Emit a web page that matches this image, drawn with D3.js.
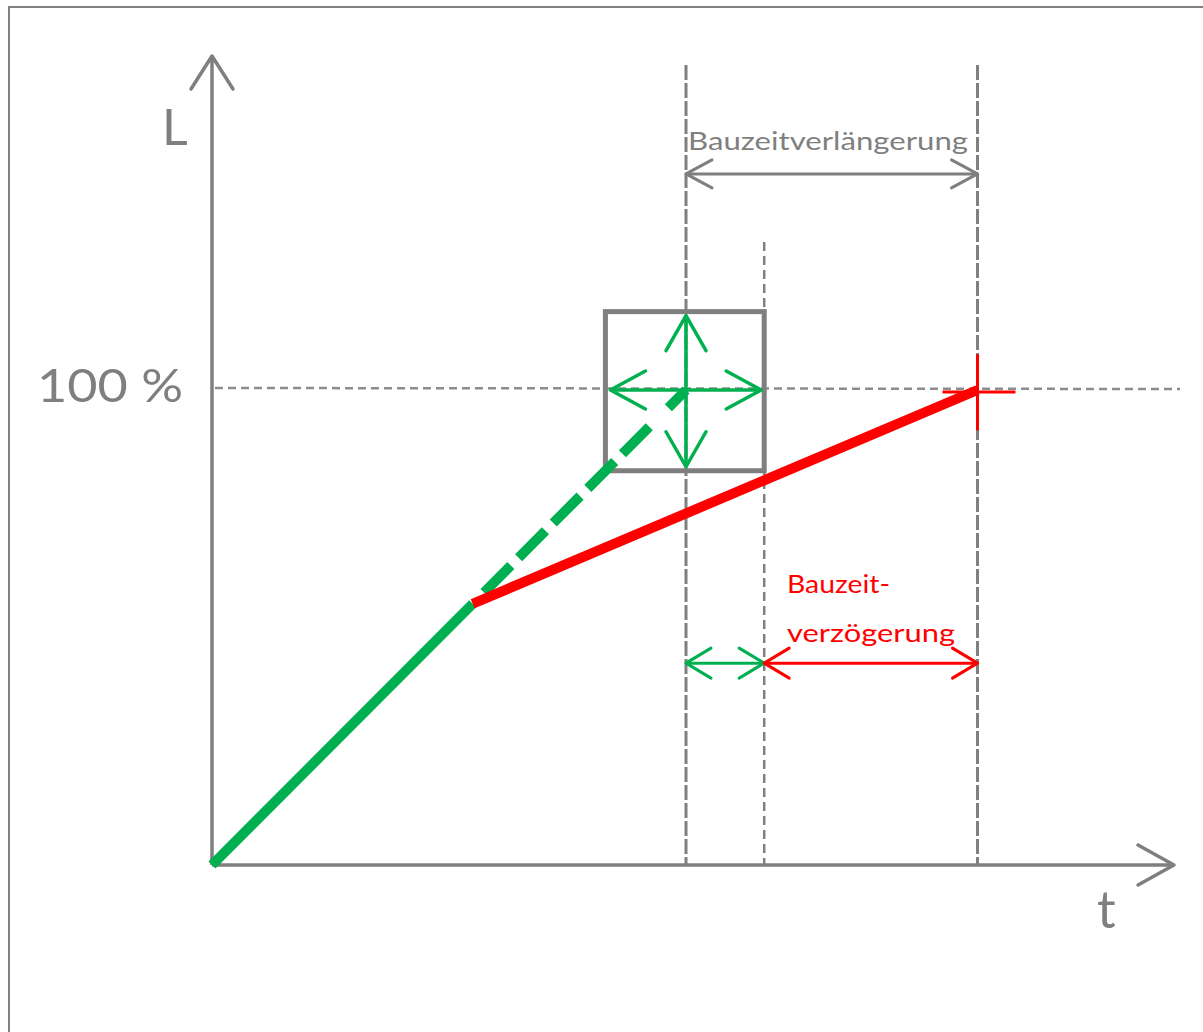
<!DOCTYPE html>
<html>
<head>
<meta charset="utf-8">
<script src="https://cdn.jsdelivr.net/npm/d3@7"></script>
<style>
  html, body { margin: 0; padding: 0; background: #fff; }
  svg { display: block; }
  text { font-family: Lato, "Open Sans", sans-serif; }
</style>
</head>
<body>
<svg width="1203" height="1032"></svg>
<script>
// --- data (t in time units, L in percent) ---
const tBreak = 5.5, lBreak = 55;         // where progress slows down
const tPlan = 10;                        // planned completion
const tTolerance = 11.65;                // end of tolerance window
const tActual = 16.15;                   // actual completion
const plannedSolid = [[0, 0], [tBreak, lBreak]];
const plannedDashed = [[tBreak, lBreak], [tPlan, 100]];
const actualLine = [[tBreak, lBreak], [tActual, 100]];
const toleranceBox = { t0: 8.3, t1: 11.65, l0: 83, l1: 116.5 };
const labels = {
  y: "L", x: "t", full: "100 %",
  extension: "Bauzeitverlängerung",
  delay: ["Bauzeit-", "verzögerung"]
};

const grey = "#7f7f7f", green = "#00b050", red = "#ff0000";

const svg = d3.select("svg");

// frame
svg.append("rect")
    .attr("x", 9).attr("y", 7)
    .attr("width", 1400).attr("height", 1200)
    .attr("fill", "none").attr("stroke", "#808080").attr("stroke-width", 2);

// scales
const x = d3.scaleLinear().domain([0, 10]).range([212, 686]);
const y = d3.scaleLinear().domain([0, 100]).range([865, 390]);

const line = d3.line().x(d => x(d[0])).y(d => y(d[1]));
const g = svg.append("g");

// open chevron at tip (px,py) pointing in direction (dx,dy)
function chevron(px, py, dx, dy, back, half, color, w) {
    const len = Math.hypot(dx, dy), ux = dx / len, uy = dy / len;
    const bx = px - ux * back, by = py - uy * back;
    g.append("path")
        .attr("d", `M${bx - uy * half},${by + ux * half}L${px},${py}L${bx + uy * half},${by - ux * half}`)
        .attr("fill", "none").attr("stroke", color).attr("stroke-width", w)
        .attr("stroke-linecap", "round").attr("stroke-linejoin", "round");
}
function hArrow(t0, t1, l, back, half, color, w) {
    g.append("line")
        .attr("x1", x(t0)).attr("x2", x(t1)).attr("y1", y(l)).attr("y2", y(l))
        .attr("stroke", color).attr("stroke-width", w);
    chevron(x(t0), y(l), -1, 0, back, half, color, w);
    chevron(x(t1), y(l), 1, 0, back, half, color, w);
}

// dashed reference lines
g.append("line")
    .attr("x1", x(0) + 3).attr("x2", 1180).attr("y1", y(100) - 2).attr("y2", y(100) - 1)
    .attr("stroke", "#8c8c8c").attr("stroke-width", 2.5).attr("stroke-dasharray", "8,5");
[[tPlan, 65, 3, "15,3"], [tTolerance, 242, 2.5, "9,5"], [tActual, 65, 3, "15,3"]].forEach(([t, top, w, dash]) => {
    g.append("line")
        .attr("x1", x(t)).attr("x2", x(t)).attr("y1", top).attr("y2", y(0))
        .attr("stroke", "#808080").attr("stroke-width", w).attr("stroke-dasharray", dash);
});

// axes
g.append("line").attr("x1", x(0)).attr("x2", x(0)).attr("y1", y(0)).attr("y2", 56)
    .attr("stroke", grey).attr("stroke-width", 3.5);
chevron(x(0), 56, 0, -1, 33, 21, grey, 3.5);
g.append("line").attr("x1", x(0)).attr("x2", 1174).attr("y1", y(0)).attr("y2", y(0))
    .attr("stroke", grey).attr("stroke-width", 3.5);
chevron(1174, y(0), 1, 0, 36, 20, grey, 3.5);

// tolerance box
g.append("rect")
    .attr("x", x(toleranceBox.t0)).attr("y", y(toleranceBox.l1))
    .attr("width", x(toleranceBox.t1) - x(toleranceBox.t0))
    .attr("height", y(toleranceBox.l0) - y(toleranceBox.l1))
    .attr("fill", "none").attr("stroke", grey).attr("stroke-width", 5);

// planned progress
g.append("path").datum(plannedSolid).attr("d", line)
    .attr("fill", "none").attr("stroke", green).attr("stroke-width", 10);
g.append("path").datum(plannedDashed).attr("d", line)
    .attr("fill", "none").attr("stroke", green).attr("stroke-width", 10)
    .attr("stroke-dasharray", "0,16,38,11,38,11,38,11,38,11,38,11");

// four-way arrow in the box
const cx = x(tPlan), cy = y(100);
g.append("line").attr("x1", cx).attr("x2", cx).attr("y1", y(toleranceBox.l1) + 4).attr("y2", y(toleranceBox.l0) - 4)
    .attr("stroke", green).attr("stroke-width", 3.5);
g.append("line").attr("x1", x(toleranceBox.t0) + 5).attr("x2", x(toleranceBox.t1) - 3).attr("y1", cy).attr("y2", cy)
    .attr("stroke", green).attr("stroke-width", 3.5);
chevron(cx, y(toleranceBox.l1) + 4, 0, -1, 35, 20, green, 3.5);
chevron(cx, y(toleranceBox.l0) - 4, 0, 1, 35, 20, green, 3.5);
chevron(x(toleranceBox.t0) + 5, cy, -1, 0, 35, 19, green, 3.5);
chevron(x(toleranceBox.t1) - 3, cy, 1, 0, 35, 19, green, 3.5);

// actual progress
g.append("path").datum(actualLine).attr("d", line)
    .attr("fill", "none").attr("stroke", red).attr("stroke-width", 10);
g.append("line").attr("x1", x(tActual)).attr("x2", x(tActual)).attr("y1", y(107.5)).attr("y2", y(91.5))
    .attr("stroke", red).attr("stroke-width", 3);
g.append("line").attr("x1", x(tActual) - 35).attr("x2", x(tActual) + 38).attr("y1", y(99.6)).attr("y2", y(99.6))
    .attr("stroke", red).attr("stroke-width", 3);

// dimension arrows
hArrow(tPlan, tActual, 145.5, 26, 14, grey, 3);
hArrow(tPlan, tTolerance, 42.5, 25, 15, green, 3);
hArrow(tTolerance, tActual, 42.5, 25, 15, red, 3);

// texts
g.append("text").attr("x", 162).attr("y", 145).attr("font-size", 50).attr("fill", grey).text(labels.y);
g.append("text").attr("x", 1097).attr("y", 928).attr("font-size", 52).attr("fill", grey).text(labels.x);
g.append("text").attr("x", 37).attr("y", 402).attr("font-size", 47).attr("fill", grey)
    .attr("textLength", 146).attr("lengthAdjust", "spacingAndGlyphs").text(labels.full);
g.append("text").attr("x", 688).attr("y", 150).attr("font-size", 25).attr("fill", grey)
    .attr("textLength", 280).attr("lengthAdjust", "spacingAndGlyphs").text(labels.extension);
g.append("text").attr("x", 787).attr("y", 593).attr("font-size", 25).attr("fill", red)
    .attr("textLength", 103).attr("lengthAdjust", "spacingAndGlyphs").text(labels.delay[0]);
g.append("text").attr("x", 787).attr("y", 642).attr("font-size", 25).attr("fill", red)
    .attr("textLength", 168).attr("lengthAdjust", "spacingAndGlyphs").text(labels.delay[1]);
</script>
</body>
</html>
